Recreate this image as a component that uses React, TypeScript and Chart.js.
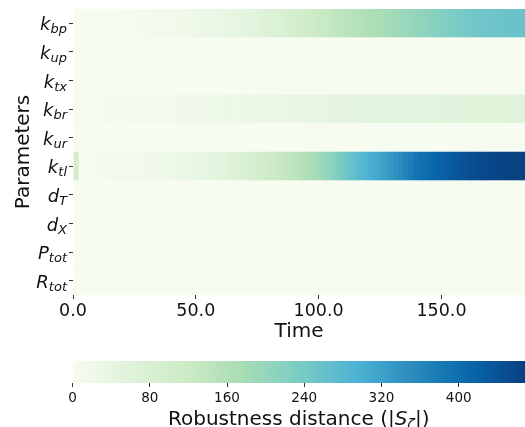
import React, { useEffect, useRef } from "react";
import { Chart, registerables } from "chart.js";
Chart.register(...registerables);

// ---- data ----
const parameterLabels: [string, string][] = [
  ["k", "bp"], ["k", "up"], ["k", "tx"], ["k", "br"], ["k", "ur"],
  ["k", "tl"], ["d", "T"], ["d", "X"], ["P", "tot"], ["R", "tot"],
];
const timeStep = 2;
const timeMax = 184;
const xTickValues = [0, 50, 100, 150];
const colorbarTicks = [0, 80, 160, 240, 320, 400];
const vmax = 468.6;

const kbp = [
  0, 0, 0, 0, 0, 0, 0, 2, 3, 3,
  4, 5, 6, 7, 8, 9, 10, 11, 13, 14,
  16, 17, 19, 21, 23, 25, 27, 29, 31, 33,
  36, 39, 42, 45, 48, 51, 55, 59, 63, 67,
  71, 76, 81, 86, 91, 96, 101, 106, 111, 116,
  121, 126, 131, 136, 140, 145, 149, 154, 158, 163,
  167, 171, 176, 180, 184, 188, 191, 195, 199, 203,
  207, 211, 215, 219, 223, 227, 231, 235, 238, 241,
  244, 246, 248, 250, 251, 252, 253, 254, 255, 256,
  257, 258,
];
const kbr = [
  4, 4, 5, 5, 6, 6, 7, 7, 8, 8,
  9, 9, 10, 10, 11, 12, 12, 13, 14, 14,
  15, 16, 16, 17, 18, 19, 19, 20, 21, 22,
  23, 24, 25, 26, 27, 28, 29, 30, 31, 32,
  33, 34, 35, 36, 37, 38, 38, 39, 40, 41,
  42, 42, 43, 44, 45, 45, 46, 47, 47, 48,
  48, 49, 50, 50, 51, 51, 52, 52, 53, 53,
  54, 54, 55, 55, 55, 56, 56, 57, 57, 57,
  58, 58, 58, 59, 59, 59, 59, 60, 60, 60,
  60, 60,
];
const ktl = [
  100, 4, 5, 5, 6, 7, 7, 8, 9, 10,
  12, 13, 14, 15, 17, 18, 20, 21, 23, 25,
  26, 28, 30, 32, 35, 37, 40, 43, 47, 51,
  55, 60, 65, 70, 76, 82, 88, 95, 101, 108,
  115, 121, 127, 134, 141, 148, 157, 166, 174, 183,
  192, 203, 214, 226, 238, 250, 260, 271, 281, 290,
  300, 307, 314, 323, 334, 345, 355, 365, 375, 385,
  393, 399, 405, 411, 417, 422, 428, 433, 438, 442,
  446, 449, 452, 455, 458, 460, 462, 463, 465, 466,
  467, 468,
];
const nCols = Math.ceil(timeMax / timeStep);
const zeroRow: number[] = new Array(nCols).fill(0);
const kup = zeroRow, ktx = zeroRow, kur = zeroRow, dT = zeroRow, dX = zeroRow, Ptot = zeroRow, Rtot = zeroRow;
const rows = [kbp, kup, ktx, kbr, kur, ktl, dT, dX, Ptot, Rtot];

// ---- colormap (GnBu) ----
const GNBU = [
  [247, 252, 240], [224, 243, 219], [204, 235, 197], [168, 221, 181],
  [123, 204, 196], [78, 179, 211], [43, 140, 190], [8, 104, 172], [8, 64, 129],
];
function gnbu(f: number): string {
  const c = Math.max(0, Math.min(1, f));
  const p = c * 8;
  const i = Math.min(7, Math.floor(p));
  const t = p - i;
  const a = GNBU[i], b = GNBU[i + 1];
  const m = (k: number) => Math.round(a[k] + (b[k] - a[k]) * t);
  return `rgb(${m(0)},${m(1)},${m(2)})`;
}

const FONT = "'DejaVu Sans', sans-serif";
const TXT = "#111111";
const TICKC = "#333333";

export default function App() {
  const heatRef = useRef<HTMLCanvasElement>(null);
  const barRef = useRef<HTMLCanvasElement>(null);

  useEffect(() => {
    const datasets = [] as any[];
    for (let j = 0; j < nCols; j++) {
      const t0 = j * timeStep;
      const t1 = Math.min(timeMax, t0 + timeStep) + (j < nCols - 1 ? 0.3 : 0);
      datasets.push({
        data: rows.map(() => [t0, t1]),
        backgroundColor: rows.map((r) => gnbu((r[j] ?? 0) / vmax)),
        borderWidth: 0,
        grouped: false,
        barPercentage: 1.02,
        categoryPercentage: 1,
      });
    }

    const yLabelPlugin = {
      id: "yLabels",
      afterDraw(chart: any) {
        const ctx = chart.ctx;
        const ys = chart.scales.y;
        ctx.save();
        ctx.fillStyle = TXT;
        ctx.textBaseline = "alphabetic";
        ctx.textAlign = "left";
        parameterLabels.forEach(([main, sub], i) => {
          const py = ys.getPixelForValue(i);
          ctx.font = `italic 18px ${FONT}`;
          const mw = ctx.measureText(main).width;
          ctx.font = `italic 13px ${FONT}`;
          const sw = ctx.measureText(sub).width;
          const right = 67;
          ctx.font = `italic 18px ${FONT}`;
          ctx.fillText(main, right - sw - mw, py + 7);
          ctx.font = `italic 13px ${FONT}`;
          ctx.fillText(sub, right - sw, py + 10);
        });
        ctx.restore();
      },
    };

    const heat = new Chart(heatRef.current!, {
      type: "bar",
      data: { labels: parameterLabels.map((p) => p.join("_")), datasets },
      options: {
        indexAxis: "y",
        responsive: false,
        animation: false,
        events: [],
        layout: { padding: { top: 9, right: 0, left: 0, bottom: 0 } },
        plugins: { legend: { display: false }, tooltip: { enabled: false } },
        scales: {
          x: {
            type: "linear",
            min: 0,
            max: timeMax,
            afterBuildTicks: (s: any) => { s.ticks = xTickValues.map((v) => ({ value: v })); },
            afterFit: (s: any) => { s.height = 50; },
            ticks: {
              callback: (v: any) => Number(v).toFixed(1),
              font: { family: FONT, size: 17.5 },
              color: TXT,
              padding: 2,
              maxRotation: 0,
            },
            grid: { display: true, drawOnChartArea: false, drawTicks: true, tickLength: 4, color: TICKC },
            border: { display: false },
            title: { display: true, text: "Time", font: { family: FONT, size: 20 }, color: TXT, padding: { top: 0, bottom: 1 } },
          },
          y: {
            type: "category",
            afterFit: (s: any) => { s.width = 73; },
            ticks: { display: false },
            grid: { display: true, drawOnChartArea: false, drawTicks: true, tickLength: 4, color: TICKC, offset: false },
            border: { display: false },
            title: { display: true, text: "Parameters", font: { family: FONT, size: 20 }, color: TXT, padding: { top: 12, bottom: 0 } },
          },
        },
      } as any,
      plugins: [yLabelPlugin],
    });

    const cbTitlePlugin = {
      id: "cbTitle",
      afterDraw(chart: any) {
        const ctx = chart.ctx;
        const ca = chart.chartArea;
        const parts: [string, string, number][] = [
          ["Robustness distance (|", "", 0],
          ["S", "italic ", 0],
          ["\u03b6", "italic ", 1],
          ["|)", "", 0],
        ];
        ctx.save();
        ctx.fillStyle = TXT;
        ctx.textBaseline = "alphabetic";
        ctx.textAlign = "left";
        let total = 0;
        const widths = parts.map(([t, st, sub]) => {
          ctx.font = `${st}${sub ? 14 : 20}px ${FONT}`;
          const w = ctx.measureText(t).width;
          total += w;
          return w;
        });
        let x = (ca.left + ca.right) / 2 - total / 2;
        const base = 79.5;
        parts.forEach(([t, st, sub], i) => {
          ctx.font = `${st}${sub ? 14 : 20}px ${FONT}`;
          ctx.fillText(t, x, sub ? base + 4 : base);
          x += widths[i];
        });
        ctx.restore();
      },
    };

    const cbar = new Chart(barRef.current!, {
      type: "bar",
      data: {
        labels: ["cb"],
        datasets: [
          {
            data: [[0, vmax]],
            borderWidth: 0,
            barPercentage: 1,
            categoryPercentage: 1,
            backgroundColor: (c: any) => {
              const ch = c.chart;
              const xs = ch.scales?.x;
              if (!ch.chartArea || !xs) return gnbu(0.5);
              const x0 = xs.getPixelForValue(0);
              const x1 = xs.getPixelForValue(vmax);
              const g = ch.ctx.createLinearGradient(x0, 0, x1, 0);
              GNBU.forEach((_, i) => g.addColorStop(i / 8, gnbu(i / 8)));
              return g;
            },
          },
        ],
      },
      options: {
        indexAxis: "y",
        responsive: false,
        animation: false,
        events: [],
        layout: { padding: { top: 16, left: 72.5, right: 0, bottom: 0 } },
        plugins: { legend: { display: false }, tooltip: { enabled: false } },
        scales: {
          x: {
            type: "linear",
            min: 0,
            max: vmax,
            afterBuildTicks: (s: any) => { s.ticks = colorbarTicks.map((v) => ({ value: v })); },
            afterFit: (s: any) => { s.height = 44; },
            ticks: { font: { family: FONT, size: 13.5 }, color: TXT, padding: 3, maxRotation: 0 },
            grid: { display: true, drawOnChartArea: false, drawTicks: true, tickLength: 4, color: TICKC },
            border: { display: false },
          },
          y: { type: "category", display: false },
        },
      } as any,
      plugins: [cbTitlePlugin],
    });

    return () => {
      heat.destroy();
      cbar.destroy();
    };
  }, []);

  return (
    <div style={{ position: "absolute", left: 0, top: 0, width: 525, height: 427, background: "#fff" }}>
      <canvas ref={heatRef} width={525} height={345} style={{ position: "absolute", left: 0, top: 0 }} />
      <canvas ref={barRef} width={525} height={82} style={{ position: "absolute", left: 0, top: 345 }} />
    </div>
  );
}
